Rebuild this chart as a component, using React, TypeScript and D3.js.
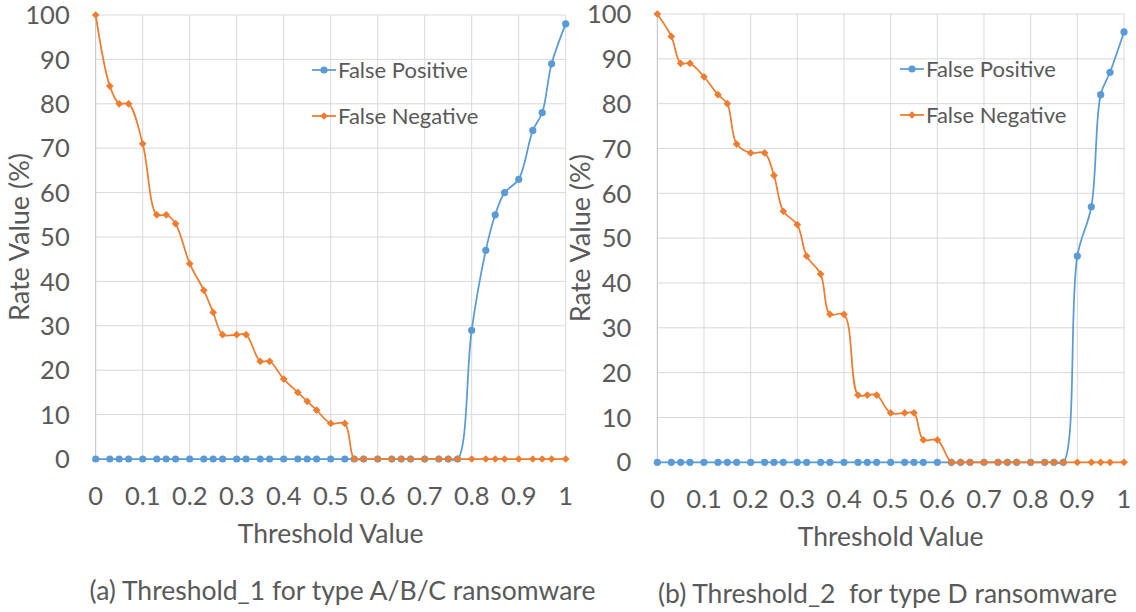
import * as d3 from "d3";
import React from "react";

// threshold values (x) shared by both charts
const thresholds = [0, 0.03, 0.05, 0.07, 0.1, 0.13, 0.15, 0.17, 0.2, 0.23, 0.25, 0.27, 0.3, 0.32, 0.35, 0.37, 0.4, 0.43, 0.45, 0.47, 0.5, 0.53, 0.55, 0.57, 0.6, 0.63, 0.65, 0.67, 0.7, 0.73, 0.75, 0.77, 0.8, 0.83, 0.85, 0.87, 0.9, 0.93, 0.95, 0.97, 1];

// (a) Threshold_1
const falsePosA = [0, 0, 0, 0, 0, 0, 0, 0, 0, 0, 0, 0, 0, 0, 0, 0, 0, 0, 0, 0, 0, 0, 0, 0, 0, 0, 0, 0, 0, 0, 0, 0, 29, 47, 55, 60, 63, 74, 78, 89, 98];
const falseNegA = [100, 84, 80, 80, 71, 55, 55, 53, 44, 38, 33, 28, 28, 28, 22, 22, 18, 15, 13, 11, 8, 8, 0, 0, 0, 0, 0, 0, 0, 0, 0, 0, 0, 0, 0, 0, 0, 0, 0, 0, 0];

// (b) Threshold_2
const falsePosB = [0, 0, 0, 0, 0, 0, 0, 0, 0, 0, 0, 0, 0, 0, 0, 0, 0, 0, 0, 0, 0, 0, 0, 0, 0, 0, 0, 0, 0, 0, 0, 0, 0, 0, 0, 0, 46, 57, 82, 87, 96];
const falseNegB = [100, 95, 89, 89, 86, 82, 80, 71, 69, 69, 64, 56, 53, 46, 42, 33, 33, 15, 15, 15, 11, 11, 11, 5, 5, 0, 0, 0, 0, 0, 0, 0, 0, 0, 0, 0, 0, 0, 0, 0, 0];

const xTicks = [0, 0.1, 0.2, 0.3, 0.4, 0.5, 0.6, 0.7, 0.8, 0.9, 1];
const yTicks = [0, 10, 20, 30, 40, 50, 60, 70, 80, 90, 100];
const seriesNames = ["False Positive", "False Negative"];

const blue = "#5B9BD5";
const orange = "#ED7D31";
const grid = "#D9D9D9";
const textColor = "#595959";
const font = "Lato, 'Open Sans', sans-serif";

const diamond = d3.symbol(d3.symbolSquare, 30)();

type PanelProps = {
  fp: number[];
  fn: number[];
  left: number;
  right: number;
  top: number;
  bottom: number;
  legendX: number;
  legendY: number;
  caption: string;
  captionX: number;
};

const Panel = ({ fp, fn, left, right, top, bottom, legendX, legendY, caption, captionX }: PanelProps) => {
  const x = d3.scaleLinear().domain([0, 1]).range([left, right]);
  const y = d3.scaleLinear().domain([0, 100]).range([bottom, top]);
  const line = d3
    .line<number>()
    .x((_, i) => x(thresholds[i]))
    .y((d) => y(d))
    .curve(d3.curveCatmullRom.alpha(0.5));
  const midX = (left + right) / 2;

  return (
    <g fontFamily={font} fill={textColor}>
      {/* grid */}
      {yTicks.map((t) => (
        <line key={"h" + t} x1={left} x2={right} y1={y(t)} y2={y(t)} stroke={grid} strokeWidth={1} />
      ))}
      {xTicks.map((t) => (
        <line key={"v" + t} x1={x(t)} x2={x(t)} y1={top} y2={bottom} stroke={t === 0 ? "#BFBFBF" : grid} strokeWidth={1} />
      ))}
      {/* tick labels */}
      {yTicks.map((t) => (
        <text key={"yl" + t} x={left - 26} y={y(t)} dy="0.36em" textAnchor="end" fontSize={25.5}>
          {t}
        </text>
      ))}
      {xTicks.map((t) => (
        <text key={"xl" + t} x={x(t)} y={bottom + 46} textAnchor="middle" fontSize={25.5}>
          {t}
        </text>
      ))}
      <text x={midX} y={bottom + 84} textAnchor="middle" fontSize={26.5}>
        Threshold Value
      </text>
      <text
        transform={`translate(${left - 67},${(top + bottom) / 2}) rotate(-90)`}
        textAnchor="middle"
        fontSize={27}
      >
        Rate Value (%)
      </text>
      <text x={captionX} y={bottom + 141} textAnchor="middle" fontSize={26.5} style={{ whiteSpace: "pre" }}>
        {caption}
      </text>

      {/* series */}
      <path d={line(fp) ?? ""} fill="none" stroke={blue} strokeWidth={1.75} />
      {fp.map((v, i) => (
        <circle key={"p" + i} cx={x(thresholds[i])} cy={y(v)} r={3.6} fill={blue} />
      ))}
      <path d={line(fn) ?? ""} fill="none" stroke={orange} strokeWidth={1.75} />
      {fn.map((v, i) => (
        <path
          key={"n" + i}
          d={diamond ?? ""}
          transform={`translate(${x(thresholds[i])},${y(v)}) rotate(45)`}
          fill={orange}
        />
      ))}

      {/* legend */}
      {seriesNames.map((name, i) => {
        const ly = legendY + i * 46;
        const c = i === 0 ? blue : orange;
        return (
          <g key={name}>
            <line x1={legendX} x2={legendX + 24} y1={ly} y2={ly} stroke={c} strokeWidth={1.75} />
            {i === 0 ? (
              <circle cx={legendX + 12} cy={ly} r={3.6} fill={c} />
            ) : (
              <path d={diamond ?? ""} transform={`translate(${legendX + 12},${ly}) rotate(45)`} fill={c} />
            )}
            <text x={legendX + 26} y={ly} dy="0.36em" fontSize={22}>
              {name}
            </text>
          </g>
        );
      })}
    </g>
  );
};

export default function App() {
  return (
    <svg
      width={1136}
      height={612}
      style={{ position: "absolute", left: 0, top: 0, background: "#fff" }}
    >
      <rect width={1136} height={612} fill="#fff" />
      <Panel
        fp={falsePosA}
        fn={falseNegA}
        left={95.7}
        right={565.7}
        top={15}
        bottom={459}
        legendX={312}
        legendY={70}
        caption="(a) Threshold_1 for type A/B/C ransomware"
        captionX={342.5}
      />
      <Panel
        fp={falsePosB}
        fn={falseNegB}
        left={657.3}
        right={1124}
        top={14}
        bottom={462.3}
        legendX={900}
        legendY={69}
        caption="(b) Threshold_2  for type D ransomware"
        captionX={887.5}
      />
    </svg>
  );
}
